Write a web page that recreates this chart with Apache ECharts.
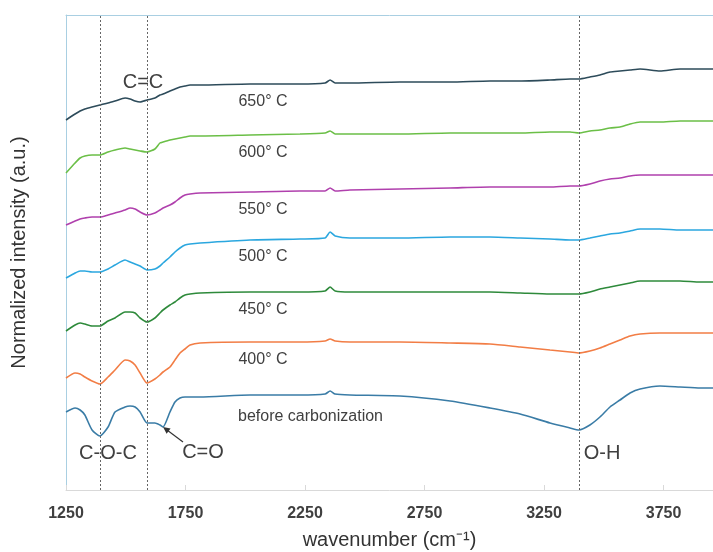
<!DOCTYPE html>
<html>
<head>
<meta charset="utf-8">
<script src="https://cdn.jsdelivr.net/npm/echarts@6/dist/echarts.min.js"></script>
<style>
  html, body { margin: 0; padding: 0; background: #fff; }
  #chart { width: 713px; height: 552px; }
</style>
</head>
<body>
<div id="chart"></div>
<script>
// wavenumber sampling points (cm-1), plot is cut at ~3957 on the right
var wavenumbers = [1250, 1288, 1309, 1329, 1359, 1392, 1426, 1455, 1497, 1518, 1539, 1560, 1589, 1622, 1643, 1656, 1685, 1706, 1727, 1748, 1769, 1811, 2020, 2229, 2334, 2355, 2376, 2438, 2647, 2857, 3024, 3150, 3275, 3359, 3396, 3442, 3484, 3526, 3568, 3610, 3652, 3735, 3819, 3903, 3957];

// stacked spectra (offset, a.u.)
var s650 = [37.0, 37.6, 37.9, 38.1, 38.3, 38.5, 38.7, 38.9, 39.2, 39.1, 38.9, 38.8, 39.0, 39.2, 39.5, 39.6, 39.9, 40.1, 40.3, 40.4, 40.5, 40.5, 40.6, 40.6, 40.7, 41.0, 40.7, 40.7, 40.8, 40.8, 40.9, 40.9, 41.0, 41.1, 41.1, 41.3, 41.5, 41.8, 41.9, 42.0, 42.1, 41.9, 42.1, 42.1, 42.1];
var s600 = [31.7, 32.7, 33.2, 33.4, 33.5, 33.5, 33.8, 34.0, 34.2, 34.1, 34.0, 33.9, 33.8, 34.1, 34.7, 34.8, 35.0, 35.1, 35.2, 35.3, 35.4, 35.4, 35.5, 35.6, 35.7, 35.9, 35.6, 35.6, 35.6, 35.7, 35.7, 35.7, 35.8, 35.8, 35.7, 35.9, 36.0, 36.2, 36.3, 36.6, 36.8, 36.8, 36.9, 36.9, 36.9];
var s550 = [26.5, 26.9, 27.1, 27.2, 27.3, 27.3, 27.5, 27.7, 28.0, 28.2, 28.1, 27.8, 27.5, 27.7, 28.0, 28.2, 28.5, 28.8, 29.2, 29.5, 29.6, 29.7, 29.8, 29.9, 29.9, 30.2, 29.9, 30.0, 30.1, 30.2, 30.3, 30.3, 30.3, 30.4, 30.4, 30.6, 30.9, 31.1, 31.2, 31.4, 31.5, 31.5, 31.5, 31.5, 31.5];
var s500 = [21.2, 21.7, 21.9, 21.9, 21.8, 21.8, 22.1, 22.5, 23.0, 22.8, 22.6, 22.4, 22.0, 22.1, 22.4, 22.7, 23.3, 23.8, 24.2, 24.5, 24.6, 24.7, 25.0, 25.1, 25.2, 25.8, 25.4, 25.2, 25.2, 25.3, 25.3, 25.2, 25.1, 25.0, 25.0, 25.2, 25.4, 25.6, 25.7, 25.9, 26.1, 26.1, 26.0, 26.0, 26.0];
var s450 = [15.9, 16.5, 16.7, 16.6, 16.4, 16.4, 16.9, 17.2, 17.8, 17.8, 17.7, 17.2, 16.8, 17.2, 17.7, 18.0, 18.5, 18.8, 19.2, 19.5, 19.6, 19.7, 19.8, 19.8, 19.9, 20.3, 19.9, 19.8, 19.8, 19.8, 19.8, 19.7, 19.6, 19.6, 19.6, 19.8, 20.1, 20.3, 20.5, 20.7, 20.9, 20.9, 20.9, 20.8, 20.8];
var s400 = [11.2, 11.7, 11.6, 11.3, 10.9, 10.6, 11.3, 12.0, 13.0, 12.9, 12.5, 11.7, 10.7, 11.1, 11.5, 11.8, 12.3, 13.0, 13.7, 14.1, 14.5, 14.7, 14.8, 14.8, 14.9, 15.1, 14.9, 14.8, 14.8, 14.7, 14.6, 14.3, 14.0, 13.8, 13.7, 13.9, 14.2, 14.6, 15.0, 15.4, 15.6, 15.7, 15.7, 15.7, 15.7];
var sBefore = [7.8, 8.2, 8.0, 7.5, 6.0, 5.4, 6.3, 7.8, 8.3, 8.4, 8.3, 7.8, 6.7, 6.7, 6.5, 6.3, 7.8, 8.8, 9.2, 9.3, 9.3, 9.3, 9.5, 9.5, 9.6, 9.9, 9.6, 9.5, 9.4, 8.9, 8.2, 7.6, 6.7, 6.2, 6.0, 6.5, 7.3, 8.3, 9.0, 9.7, 10.1, 10.4, 10.3, 10.2, 10.2];

// band positions marked with dotted lines
var bandLines = [1392, 1589, 3396];

var seriesDefs = [
    { name: '650° C', data: s650, color: '#2d4b5a' },
    { name: '600° C', data: s600, color: '#6bbf47' },
    { name: '550° C', data: s550, color: '#b040ad' },
    { name: '500° C', data: s500, color: '#2ba7df' },
    { name: '450° C', data: s450, color: '#2e8a3b' },
    { name: '400° C', data: s400, color: '#f27d45' },
    { name: 'before carbonization', data: sBefore, color: '#3a7ca6' }
];

var font = 'Liberation Sans, Arial, sans-serif';
var frameColor = '#a9cfe2';

function pairs(ys) {
    return wavenumbers.map(function (x, i) { return [x, ys[i]]; });
}

var series = seriesDefs.map(function (d, i) {
    var s = {
        name: d.name,
        type: 'line',
        data: pairs(d.data),
        showSymbol: false,
        smooth: 0.2,
        lineStyle: { color: d.color, width: 1.6 },
        itemStyle: { color: d.color },
        z: 3
    };
    if (i === 0) {
        s.markLine = {
            silent: true,
            symbol: 'none',
            label: { show: false },
            lineStyle: { color: '#666', type: [2, 2], width: 1 },
            data: bandLines.map(function (v) { return { xAxis: v }; })
        };
    }
    return s;
});

// text annotations
function txt(x, y, str, size, align) {
    return {
        type: 'text',
        x: x, y: y,
        style: {
            text: str,
            fill: '#404040',
            font: size + 'px ' + font,
            align: align || 'center',
            verticalAlign: 'middle'
        },
        z: 10
    };
}

var graphics = [
    txt(263, 102, '650° C', 16),
    txt(263, 153, '600° C', 16),
    txt(263, 210, '550° C', 16),
    txt(263, 257, '500° C', 16),
    txt(263, 310, '450° C', 16),
    txt(263, 360, '400° C', 16),
    txt(238, 417, 'before carbonization', 16, 'left'),
    txt(143, 82, 'C=C', 20),
    txt(108, 453, 'C-O-C', 20),
    txt(203, 452, 'C=O', 20),
    txt(602, 453, 'O-H', 20),
    {
        type: 'line',
        shape: { x1: 183, y1: 442, x2: 167, y2: 430 },
        style: { stroke: '#333', lineWidth: 1.2 },
        z: 10
    },
    {
        type: 'polygon',
        shape: { points: [[163, 427], [170.6, 428.6], [166.6, 433.8]] },
        style: { fill: '#333' },
        z: 10
    }
];

var chart = echarts.init(document.getElementById('chart'));
chart.setOption({
    animation: false,
    grid: {
        left: 66,
        top: 15,
        right: 0,
        bottom: 62,
        outerBoundsMode: 'none'
    },
    xAxis: [{
        type: 'value',
        min: 1250,
        max: 3957,
        interval: 500,
        name: 'wavenumber (cm⁻¹)',
        nameLocation: 'middle',
        nameGap: 40,
        nameMoveOverlap: false,
        nameTextStyle: { fontSize: 20, color: '#333', fontFamily: font },
        axisLine: { show: true, lineStyle: { color: '#d9d9d9' } },
        axisTick: { show: true, inside: true, length: 5, lineStyle: { color: '#d9d9d9' } },
        axisLabel: {
            color: '#404040', fontSize: 16, fontWeight: 'bold', margin: 16, fontFamily: font,
            showMaxLabel: false,
            formatter: function (v) { return String(v); }
        },
        splitLine: { show: false }
    }, {
        // top frame line
        type: 'value',
        position: 'top',
        min: 1250,
        max: 3957,
        axisLine: { show: true, lineStyle: { color: frameColor } },
        axisTick: { show: false },
        axisLabel: { show: false },
        splitLine: { show: false }
    }],
    yAxis: {
        type: 'value',
        min: 0,
        max: 47.5,
        name: 'Normalized intensity (a.u.)',
        nameLocation: 'middle',
        nameGap: 37,
        nameMoveOverlap: false,
        nameTextStyle: { fontSize: 20, color: '#333', fontFamily: font },
        axisLine: { show: true, lineStyle: { color: frameColor } },
        axisTick: { show: false },
        axisLabel: { show: false },
        splitLine: { show: false }
    },
    series: series,
    graphic: graphics
});
</script>
</body>
</html>
